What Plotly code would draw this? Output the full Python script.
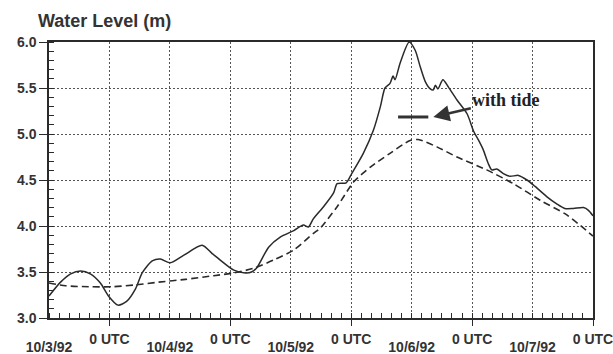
import pandas as pd
import plotly.graph_objects as go

# Time axis: hours since 10/3/92 12 UTC
START = pd.Timestamp("1992-10-03 12:00")

# Water level with tide (m)
tide_hours = [0, 2.3, 4.3, 6.3, 8.2, 10.2, 11.8, 13.7, 15.4, 17.2, 18.5, 20.5, 22.1, 24.1,
              26.7, 30.4, 32.4, 34.0, 36.7, 39.0, 40.2, 41.3, 43.6, 45.9, 48.6, 50.5,
              51.5, 52.5, 54.5, 56.5, 57.2, 59.0, 60.1, 62.4, 64.4, 65.8, 66.7, 67.7,
              68.3, 68.7, 69.7, 71.5, 72.7, 73.7, 74.7, 75.7, 76.3, 76.7, 77.2, 78.2,
              79.3, 81.0, 83.0, 84.3, 85.3, 86.2, 87.2, 87.9, 88.9, 90.2, 91.5, 93.2,
              94.9, 96.5, 98.8, 100.8, 102.4, 104.1, 106.1, 107.1, 108.0]
tide_level = [3.24, 3.39, 3.48, 3.51, 3.48, 3.38, 3.24, 3.14, 3.18, 3.32, 3.49, 3.62, 3.64, 3.60,
              3.68, 3.79, 3.70, 3.63, 3.52, 3.49, 3.50, 3.55, 3.77, 3.88, 3.95, 4.01,
              3.99, 4.08, 4.21, 4.36, 4.46, 4.47, 4.57, 4.79, 5.04, 5.30, 5.50, 5.55,
              5.63, 5.59, 5.77, 6.00, 5.91, 5.73, 5.57, 5.49, 5.48, 5.53, 5.49, 5.59,
              5.51, 5.37, 5.22, 5.03, 4.93, 4.83, 4.68, 4.61, 4.62, 4.57, 4.54, 4.55,
              4.50, 4.43, 4.32, 4.24, 4.19, 4.19, 4.20, 4.17, 4.11]

# Water level without tide (m)
surge_hours = [0, 3.3, 7.9, 12.5, 17.2, 21.8, 27.1, 32.7, 36.7, 40.6, 44.6, 48.6, 52.5,
               53.9, 57.2, 60.5, 63.8, 67.7, 71.7, 73.3, 77.0, 81.0, 86.9, 92.2, 97.5,
               102.8, 108.0]
surge_level = [3.38, 3.35, 3.34, 3.34, 3.36, 3.39, 3.42, 3.46, 3.49, 3.54, 3.63, 3.74, 3.92,
               3.98, 4.21, 4.48, 4.64, 4.79, 4.93, 4.94, 4.86, 4.75, 4.61, 4.46, 4.28,
               4.12, 3.89]

# Axis labelling
utc_ticks = ["1992-10-04 00:00", "1992-10-05 00:00", "1992-10-06 00:00",
             "1992-10-07 00:00", "1992-10-08 00:00"]
utc_text = ["0 UTC"] * 5
date_ticks = ["1992-10-03 12:00", "1992-10-04 12:00", "1992-10-05 12:00",
              "1992-10-06 12:00", "1992-10-07 12:00"]
date_text = ["10/3/92", "10/4/92", "10/5/92", "10/6/92", "10/7/92"]
y_ticks = [3.0, 3.5, 4.0, 4.5, 5.0, 5.5, 6.0]

# Legend key for the tide curve
key_hours = [69.3, 75.3]
key_level = 5.185


def to_time(hours):
    return START + pd.to_timedelta(hours, unit="h")


x_range = [START, to_time(108)]
ink = "#2a2a2a"
grid_col = "#555555"
tick_font = dict(family="Liberation Sans", size=14, color="#333333", weight="bold")

fig = go.Figure()
fig.add_trace(go.Scatter(
    x=to_time(tide_hours), y=tide_level, mode="lines",
    line=dict(color=ink, width=1.5, shape="spline", smoothing=0.7),
    hoverinfo="skip", showlegend=False))
fig.add_trace(go.Scatter(
    x=to_time(surge_hours), y=surge_level, mode="lines", xaxis="x2",
    line=dict(color=ink, width=1.6, dash="7px,4px", shape="spline", smoothing=0.7),
    hoverinfo="skip", showlegend=False))

fig.update_layout(
    width=613, height=354,
    margin=dict(l=48.5, r=20, t=42, b=36),
    paper_bgcolor="white", plot_bgcolor="white",
    title=dict(text="<b>Water Level (m)</b>", xref="container", yref="container",
               x=38 / 613, xanchor="left", y=1 - 21 / 354, yanchor="middle",
               font=dict(family="Liberation Sans", size=18, color="#333333")),
    xaxis=dict(
        type="date", range=x_range, automargin=False,
        tickmode="array", tickvals=utc_ticks, ticktext=utc_text,
        ticks="outside", ticklen=6, tickwidth=1.2, tickcolor=ink,
        tickfont=tick_font, ticklabeloverflow="allow", ticklabelstandoff=1,
        showline=True, linecolor=ink, linewidth=1.5, mirror=True,
        showgrid=True, gridcolor=grid_col, gridwidth=1, griddash="2px,2px",
        zeroline=False,
        minor=dict(dtick=2 * 3600 * 1000, tick0="1992-10-03 12:00", ticks="inside",
                   ticklen=5, tickwidth=1, tickcolor=ink, showgrid=False),
    ),
    xaxis2=dict(
        type="date", range=x_range, overlaying="x", anchor="y", side="bottom",
        automargin=False,
        tickmode="array", tickvals=date_ticks, ticktext=date_text,
        ticks="", tickfont=tick_font, ticklabelstandoff=19,
        ticklabeloverflow="allow",
        showline=False, zeroline=False,
        showgrid=True, gridcolor=grid_col, gridwidth=1, griddash="2px,2px",
    ),
    yaxis=dict(
        range=[3, 6], tickmode="array", tickvals=y_ticks, tickformat=".1f",
        automargin=False,
        ticks="outside", ticklen=8, tickwidth=1.2, tickcolor=ink,
        tickfont=tick_font,
        showline=True, linecolor=ink, linewidth=1.5, mirror=True,
        showgrid=True, gridcolor=grid_col, gridwidth=1, griddash="2px,2px",
        zeroline=False,
        minor=dict(dtick=0.1, ticks="inside", ticklen=5, tickwidth=1,
                   tickcolor=ink, showgrid=False),
    ),
)

# Legend key and its pointer
fig.add_shape(type="line", xref="x", yref="y",
              x0=to_time(key_hours[0]), x1=to_time(key_hours[1]),
              y0=key_level, y1=key_level, line=dict(color="#333333", width=3))
fig.add_annotation(
    x=to_time(76.3), y=key_level, xref="x", yref="y",
    text="<b>with tide</b>", showarrow=True, ax=73, ay=-17,
    arrowhead=2, arrowsize=1.3, arrowwidth=2.5, arrowcolor="#333333",
    font=dict(family="Liberation Serif", size=18, color="#222222"))

fig.write_html("out.html")
